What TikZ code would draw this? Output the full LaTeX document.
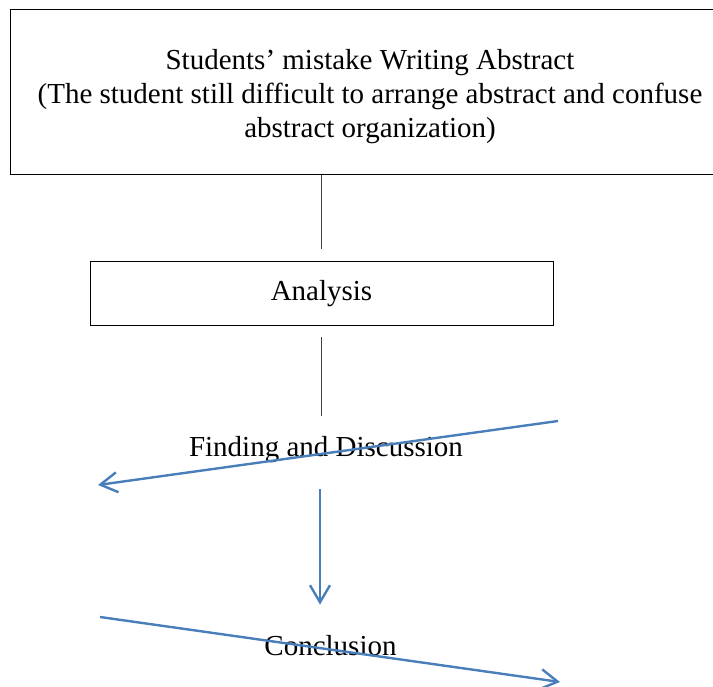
\documentclass[tikz,border=0pt]{standalone}
\usepackage{fontspec}
\setmainfont{Liberation Serif}
\usepackage{tikz}
\usetikzlibrary{arrows.meta,positioning,calc}
\usepackage{xcolor}
\definecolor{flowblue}{HTML}{4A7EBB}
\definecolor{linkgray}{HTML}{404040}

\begin{document}
\begin{tikzpicture}[
  x=1pt, y=-1pt,
  >={Straight Barb[length=17pt,width=20pt]},
  box/.style={draw=black, line width=1pt, align=center, font=\fontsize{29}{34}\selectfont},
  label/.style={inner sep=0pt, font=\fontsize{29}{34}\selectfont},
  link/.style={draw=linkgray, line width=1pt},
  flow/.style={->, draw=flowblue, line width=2.4pt},
]
\useasboundingbox (0,0) rectangle (713,687);

\node[box, minimum width=720pt, minimum height=165pt] (problem) at (370, 92.5)
  {\rule{0pt}{28pt}Students’ mistake Writing Abstract\\(The student still difficult to arrange abstract and confuse\\abstract organization)};
\node[box, minimum width=463pt, minimum height=64pt] (analysis) at (321.5, 294) {Analysis};
\node[label] (finding) at (326, 450) {Finding and Discussion};
\node[label] (conclusion) at (330.5, 646) {Conclusion};

\coordinate (fd-start) at (558, 421);
\coordinate (fd-end) at (98, 485);
\coordinate (cc-start) at (100, 617);
\coordinate (cc-end) at (560, 682);

\draw[link, shorten >=12pt] (problem.south -| analysis) -- (analysis.north);
\draw[link, shorten <=11pt, shorten >=21pt] (analysis.south) -- (finding.north -| analysis);

\draw[flow] (fd-start) -- (fd-end);
\draw[flow, shorten <=26pt, shorten >=31pt] ([xshift=-6pt]finding.south) -- ([xshift=-10.5pt]conclusion.north);
\draw[flow] (cc-start) -- (cc-end);

\end{tikzpicture}
\end{document}
